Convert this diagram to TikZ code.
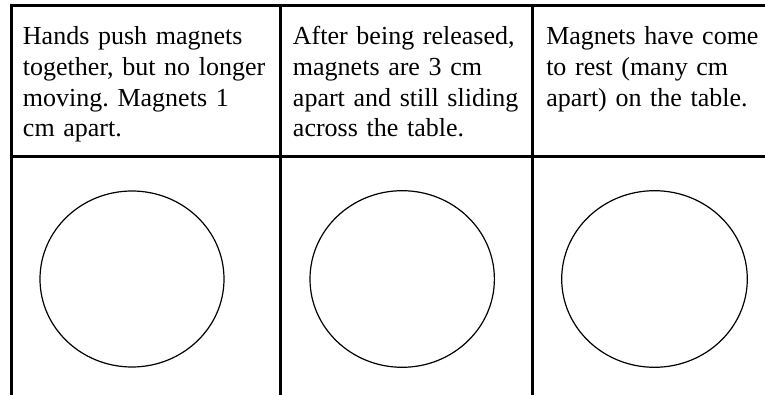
\documentclass[tikz,border=0pt]{standalone}
\usepackage{fontspec}
\setmainfont{Liberation Serif}
\frenchspacing
\begin{document}
\begin{tikzpicture}[x=0.75pt,y=-0.75pt,
  rule/.style={line width=2.25pt,line cap=rect},
  cell/.style={anchor=base west,inner sep=0pt,text width=190pt,align=left,
    font=\fontsize{19.5}{23}\selectfont},
  magnet/.style={line width=0.9pt}]
\useasboundingbox (0,0) rectangle (765,395);
% grid lines
\coordinate (tl) at (11.5,5.5);
\coordinate (tr) at (766,5.5);
\coordinate (ml) at (11.5,156.5);
\coordinate (mr) at (766,156.5);
\coordinate (d0t) at (11.5,5.5);
\coordinate (d0b) at (11.5,396);
\coordinate (d1t) at (280.5,5.5);
\coordinate (d1b) at (280.5,396);
\coordinate (d2t) at (532.5,5.5);
\coordinate (d2b) at (532.5,396);
\draw[rule] (tl) -- (tr);
\draw[rule] (ml) -- (mr);
\draw[rule] (d0t) -- (d0b);
\draw[rule] (d1t) -- (d1b);
\draw[rule] (d2t) -- (d2b);
% texts
\node[cell] (t1) at (22.7,45) {Hands push magnets\\together, but no longer\\moving. Magnets 1\\cm apart.};
\node[cell] (t2) at (292.7,45) {After being released,\\magnets are 3 cm\\apart and still sliding\\across the table.};
\node[cell] (t3) at (546,45) {Magnets have come\\to rest (many cm\\apart) on the table.};
% circles
\draw[magnet] (132,279) ellipse [x radius=92, y radius=88];
\draw[magnet] (402.2,279) ellipse [x radius=92.2, y radius=88.3];
\draw[magnet] (654.5,279) ellipse [x radius=92.8, y radius=88.3];
\end{tikzpicture}
\end{document}
